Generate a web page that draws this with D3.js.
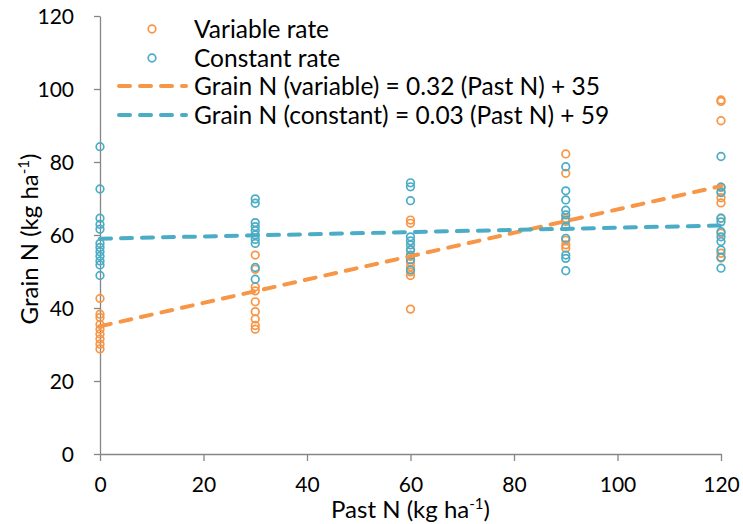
<!DOCTYPE html>
<html>
<head>
<meta charset="utf-8">
<script src="https://cdn.jsdelivr.net/npm/d3@7"></script>
<style>
  html, body { margin: 0; padding: 0; background: #fff; }
  svg { display: block; font-family: Lato, "Open Sans", sans-serif; }
</style>
</head>
<body>
<svg id="chart" width="743" height="524"></svg>
<script>
// Past N application levels (kg ha-1)
const pastN = [0, 30, 60, 90, 120];

// Grain N observations, variable rate, per past N level
const variableRate = [
  [42.6, 38.3, 37.4, 35.5, 34.2, 32.9, 31.5, 30.1, 28.8],
  [54.5, 50.6, 45.8, 44.7, 41.7, 39.0, 37.0, 35.2, 34.2],
  [64.1, 63.2, 56.0, 54.1, 52.6, 51.3, 49.9, 48.9, 39.7],
  [82.2, 76.9, 64.6, 63.7, 58.6, 57.3, 56.4],
  [97.0, 96.6, 91.3, 73.1, 71.9, 70.2, 68.8, 64.6, 60.5, 55.0, 53.7]
];

// Grain N observations, constant rate, per past N level
const constantRate = [
  [84.2, 72.6, 64.6, 62.9, 61.6, 57.7, 56.6, 55.4, 54.2, 52.9, 51.8, 48.9],
  [69.9, 68.7, 63.4, 62.3, 61.2, 60.0, 58.8, 57.7, 51.1, 47.9],
  [74.3, 73.2, 69.4, 59.5, 58.4, 57.3, 55.9, 54.5, 53.2, 50.4],
  [78.7, 72.1, 69.6, 66.8, 65.5, 64.1, 62.3, 59.1, 54.5, 53.6, 50.2],
  [81.5, 73.1, 71.6, 64.6, 63.6, 60.9, 59.5, 58.2, 55.9, 53.9, 50.9]
];

// Linear fits: [slope, intercept]
const fitVariable = [0.32, 35];
const fitConstant = [0.03, 59];

const xTicks = [0, 20, 40, 60, 80, 100, 120];
const yTicks = [0, 20, 40, 60, 80, 100, 120];

const seriesNames = ["Variable rate", "Constant rate"];
const fitNames = [
  "Grain N (variable) = 0.32 (Past N) + 35",
  "Grain N (constant) = 0.03 (Past N) + 59"
];

const orange = "#F79646";
const blue = "#4BACC6";
const axisGrey = "#868686";
const fontStack = "Lato, 'Open Sans', sans-serif";

const svg = d3.select("#chart");
const margin = { left: 100, top: 16, right: 22, bottom: 70 };
const W = 743, H = 524;
const x = d3.scaleLinear().domain([0, 120]).range([margin.left, W - margin.right]);
const y = d3.scaleLinear().domain([0, 120]).range([H - margin.bottom, margin.top]);

// Axes
const xAxis = svg.append("g")
  .attr("transform", `translate(0,${y(0)})`)
  .call(d3.axisBottom(x).tickValues(xTicks).tickSize(7).tickPadding(16).tickSizeOuter(0));
const yAxis = svg.append("g")
  .attr("transform", `translate(${x(0)},0)`)
  .call(d3.axisLeft(y).tickValues(yTicks).tickSize(6).tickPadding(20).tickSizeOuter(0));

[xAxis, yAxis].forEach(g => {
  g.select(".domain").attr("stroke", axisGrey).attr("stroke-width", 1.3);
  g.selectAll(".tick line").attr("stroke", axisGrey).attr("stroke-width", 1.3);
  g.selectAll(".tick text")
    .attr("fill", "#000")
    .style("font-size", "21px")
    .style("font-family", fontStack);
});
yAxis.selectAll(".tick text").attr("dy", "0.36em");

// Scatter points
function flatten(groups) {
  const out = [];
  groups.forEach((vals, i) => vals.forEach(v => out.push({ x: pastN[i], y: v })));
  return out;
}

const plot = svg.append("g");
plot.selectAll("circle.var")
  .data(flatten(variableRate))
  .join("circle")
  .attr("class", "var")
  .attr("cx", d => x(d.x))
  .attr("cy", d => y(d.y))
  .attr("r", 3.8)
  .attr("fill", "none")
  .attr("stroke", orange)
  .attr("stroke-width", 1.7);

plot.selectAll("circle.con")
  .data(flatten(constantRate))
  .join("circle")
  .attr("class", "con")
  .attr("cx", d => x(d.x))
  .attr("cy", d => y(d.y))
  .attr("r", 3.8)
  .attr("fill", "none")
  .attr("stroke", blue)
  .attr("stroke-width", 1.7);

// Trend lines
const line = d3.line().x(d => x(d[0])).y(d => y(d[1]));
function fitPts(f) { return [[0, f[1]], [120, f[0] * 120 + f[1]]]; }

[[fitVariable, orange], [fitConstant, blue]].forEach(([f, c]) => {
  plot.append("path")
    .attr("d", line(fitPts(f)))
    .attr("fill", "none")
    .attr("stroke", c)
    .attr("stroke-width", 4)
    .attr("stroke-linecap", "round")
    .attr("stroke-dasharray", "11,10");
});

// Legend
const legend = svg.append("g").style("font-size", "24.5px");
const rowsY = [29, 58, 86, 115];
const legendText = [seriesNames[0], seriesNames[1], fitNames[0], fitNames[1]];
const legendColor = [orange, blue, orange, blue];

legendText.forEach((t, i) => {
  if (i < 2) {
    legend.append("circle")
      .attr("cx", 152).attr("cy", rowsY[i])
      .attr("r", 3.8)
      .attr("fill", "none")
      .attr("stroke", legendColor[i])
      .attr("stroke-width", 1.7);
  } else {
    legend.append("line")
      .attr("x1", 119).attr("x2", 186)
      .attr("y1", rowsY[i]).attr("y2", rowsY[i])
      .attr("stroke", legendColor[i])
      .attr("stroke-width", 4)
      .attr("stroke-linecap", "round")
      .attr("stroke-dasharray", "11,10");
  }
  legend.append("text")
    .attr("x", 194)
    .attr("y", rowsY[i])
    .attr("dy", "0.35em")
    .attr("fill", "#000")
    .text(t);
});

// Axis titles
const xTitle = svg.append("text")
  .attr("x", x(60))
  .attr("y", 518)
  .attr("text-anchor", "middle")
  .style("font-size", "24px")
  .attr("fill", "#000");
xTitle.append("tspan").text("Past N (kg ha");
xTitle.append("tspan").attr("dy", -9).style("font-size", "15px").text("-1");
xTitle.append("tspan").attr("dy", 9).text(")");

const yTitle = svg.append("text")
  .attr("transform", `translate(38,${(y(0) + y(120)) / 2 + 4}) rotate(-90)`)
  .attr("text-anchor", "middle")
  .style("font-size", "24px")
  .attr("fill", "#000");
yTitle.append("tspan").text("Grain N (kg ha");
yTitle.append("tspan").attr("dy", -9).style("font-size", "15px").text("-1");
yTitle.append("tspan").attr("dy", 9).text(")");
</script>
</body>
</html>
